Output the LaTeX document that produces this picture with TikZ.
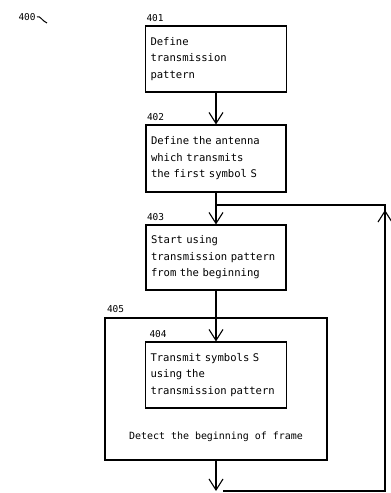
\documentclass[tikz,border=0pt]{standalone}
\usepackage{fontspec}
\setmainfont{DejaVu Sans Mono}
\usetikzlibrary{arrows.meta}
\begin{document}
\begin{tikzpicture}[x=1bp,y=-1bp,
  line width=1.1bp,
  box/.style={draw, rectangle, align=left, inner xsep=5bp, inner ysep=0pt,
    font=\fontsize{10.6}{16.5}\selectfont},
  lbl/.style={inner sep=0pt, font=\fontsize{9.5}{10}\selectfont, anchor=south west},
  arr/.style={-{Straight Barb[length=11bp,width=14bp,line width=1.1bp]}},
]
\useasboundingbox (0,0) rectangle (390,493);
\fill[white] (0,0) rectangle (390,493);

\node[lbl, anchor=west] (l400) at (18,17) {400};
\draw[line width=1bp] (37,17) .. controls (40,15) and (42,21) .. (47,23);

\node[box, text width=131bp, minimum height=66bp] (b401) at (216,59)
  {Define\\transmission\\pattern};
\node[box, text width=130bp, minimum height=67bp] (b402) at (216,158.5)
  {Define the antenna\\which transmits\\the first symbol S};
\node[box, text width=130bp, minimum height=65bp] (b403) at (216,257.5)
  {Start using\\transmission pattern\\from the beginning};
\node[draw, rectangle, minimum width=222bp, minimum height=142bp, inner sep=0pt] (b405) at (216,389) {};
\node[box, text width=131bp, minimum height=66bp] (b404) at (216,375)
  {Transmit symbols S\\using the\\transmission pattern};
\node[inner sep=0pt, font=\fontsize{10}{12}\selectfont] (det) at (216,437) {Detect the beginning of frame};

\node[lbl] at ([xshift=1bp,yshift=3bp]b401.north west) {401};
\node[lbl] at ([xshift=1bp,yshift=3bp]b402.north west) {402};
\node[lbl] at ([xshift=1bp,yshift=3bp]b403.north west) {403};
\node[lbl] at ([xshift=4bp,yshift=3bp]b404.north west) {404};
\node[lbl] at ([xshift=2bp,yshift=4bp]b405.north west) {405};

\coordinate (j) at (216,205);
\coordinate (bot) at (216,491);
\coordinate (bs) at (223,491);
\coordinate (br) at (385,491);
\coordinate (tr) at (385,205);
\coordinate (tip) at (385,210);
\coordinate (tipst) at (385,230);

\draw[arr] (b401.south) -- (b402.north);
\draw[arr] (b402.south) -- (b403.north);
\draw[arr] (b403.south) -- (b404.north);
\draw[arr] (b405.south) -- (bot);
\draw (bs) -- (br) -- (tr) -- (j);
\draw[arr] (tipst) -- (tip);
\end{tikzpicture}
\end{document}
